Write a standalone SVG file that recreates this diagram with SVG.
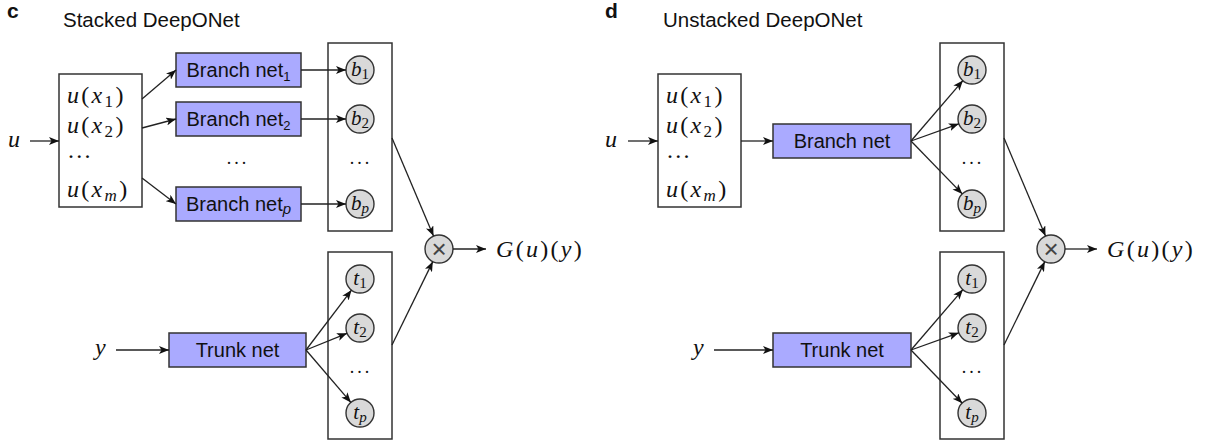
<svg xmlns="http://www.w3.org/2000/svg" width="1206" height="446" viewBox="0 0 1206 446">
<style>
text{fill:#111}
.lbl{font-family:"Liberation Sans",Arial,sans-serif;font-size:20.5px}
.pl{font-family:"Liberation Sans",Arial,sans-serif;font-size:21px;font-weight:bold}
.net{fill:#aaaaff;stroke:#333;stroke-width:1.5}
.box{fill:#fff;stroke:#333;stroke-width:1.5}
.nt{font-family:"Liberation Sans",Arial,sans-serif;font-size:20px;text-anchor:middle}
.nd{fill:#d9d9d9;stroke:#333;stroke-width:1.4}
.m{font-family:"Liberation Serif","Times New Roman",serif;font-size:24px;font-style:italic;letter-spacing:2.3px}
.mr{font-style:normal}
.cl{font-family:"Liberation Serif","Times New Roman",serif;font-size:21px;font-style:italic;text-anchor:middle}
.dots{font-family:"Liberation Serif",serif;font-size:18px;letter-spacing:3px;text-anchor:middle}
.x{font-family:"Liberation Sans",Arial,sans-serif;font-size:26px;text-anchor:middle;fill:#444}
.conn line{stroke:#222;stroke-width:1.3;marker-end:url(#ah)}
</style>
<defs>
<marker id="ah" viewBox="0 0 10 8" refX="10" refY="4" markerWidth="10" markerHeight="8" markerUnits="userSpaceOnUse" orient="auto">
<path d="M0,0 L10,4 L0,8 L2.5,4 z" fill="#111"/>
</marker>
</defs>

<!-- ============ Panel c ============ -->
<text class="pl" x="7" y="18">c</text>
<text class="lbl" x="63" y="27">Stacked DeepONet</text>

<g id="c-u"><text class="m" x="8" y="147">u</text></g>
<g id="c-input">
<rect class="box" x="59" y="74" width="83" height="133"/>
<text class="m" x="67" y="103">u<tspan class="mr">(</tspan>x<tspan class="mr" font-size="17" dy="4">1</tspan><tspan class="mr" dy="-4">)</tspan></text>
<text class="m" x="67" y="133">u<tspan class="mr">(</tspan>x<tspan class="mr" font-size="17" dy="4">2</tspan><tspan class="mr" dy="-4">)</tspan></text>
<text class="m mr" x="68" y="158" letter-spacing="5.5">...</text>
<text class="m" x="67" y="197">u<tspan class="mr">(</tspan>x<tspan font-size="17" dy="4">m</tspan><tspan class="mr" dy="-4">)</tspan></text>
</g>
<g id="c-branch1"><rect class="net" x="176" y="53" width="125" height="34"/><text class="nt" x="238.5" y="77">Branch net<tspan font-size="13" dy="4">1</tspan></text></g>
<g id="c-branch2"><rect class="net" x="176" y="102" width="125" height="34"/><text class="nt" x="238.5" y="126">Branch net<tspan font-size="13" dy="4">2</tspan></text></g>
<text class="dots" x="238" y="164">...</text>
<g id="c-branchp"><rect class="net" x="176" y="187" width="125" height="34"/><text class="nt" x="238.5" y="211">Branch net<tspan font-size="15" font-style="italic" dy="3">p</tspan></text></g>

<g id="c-bcol">
<rect class="box" x="328" y="43" width="64" height="188"/>
<circle class="nd" cx="360" cy="70" r="14"/><text class="cl" x="360" y="76">b<tspan class="mr" font-size="15" dy="3">1</tspan></text>
<circle class="nd" cx="360" cy="119" r="14"/><text class="cl" x="360" y="125">b<tspan class="mr" font-size="15" dy="3">2</tspan></text>
<text class="dots" x="361" y="164">...</text>
<circle class="nd" cx="360" cy="204" r="14"/><text class="cl" x="360" y="210">b<tspan font-size="15" dy="3">p</tspan></text>
</g>

<g id="c-y"><text class="m" x="95" y="355">y</text></g>
<g id="c-trunk"><rect class="net" x="169" y="333" width="137" height="34"/><text class="nt" x="237.5" y="357">Trunk net</text></g>

<g id="c-tcol">
<rect class="box" x="328" y="252" width="64" height="187"/>
<circle class="nd" cx="360" cy="279" r="14"/><text class="cl" x="360" y="285">t<tspan class="mr" font-size="15" dy="3">1</tspan></text>
<circle class="nd" cx="360" cy="328" r="14"/><text class="cl" x="360" y="334">t<tspan class="mr" font-size="15" dy="3">2</tspan></text>
<text class="dots" x="361" y="373">...</text>
<circle class="nd" cx="360" cy="413" r="14"/><text class="cl" x="360" y="419">t<tspan font-size="15" dy="3">p</tspan></text>
</g>

<g id="c-mult"><circle class="nd" cx="439" cy="249" r="14"/><text class="x" x="439" y="258">×</text></g>
<g id="c-out"><text class="m" x="496" y="257" font-size="26" letter-spacing="2">G<tspan class="mr">(</tspan>u<tspan class="mr">)(</tspan>y<tspan class="mr">)</tspan></text></g>

<!-- ============ Panel d ============ -->
<text class="pl" x="605" y="18">d</text>
<text class="lbl" x="663" y="27">Unstacked DeepONet</text>

<g id="d-u"><text class="m" x="605" y="147">u</text></g>
<g id="d-input">
<rect class="box" x="658" y="74" width="83" height="133"/>
<text class="m" x="666" y="103">u<tspan class="mr">(</tspan>x<tspan class="mr" font-size="17" dy="4">1</tspan><tspan class="mr" dy="-4">)</tspan></text>
<text class="m" x="666" y="133">u<tspan class="mr">(</tspan>x<tspan class="mr" font-size="17" dy="4">2</tspan><tspan class="mr" dy="-4">)</tspan></text>
<text class="m mr" x="667" y="158" letter-spacing="5.5">...</text>
<text class="m" x="666" y="197">u<tspan class="mr">(</tspan>x<tspan font-size="17" dy="4">m</tspan><tspan class="mr" dy="-4">)</tspan></text>
</g>
<g id="d-branch"><rect class="net" x="773" y="124" width="138" height="34"/><text class="nt" x="842" y="148">Branch net</text></g>

<g id="d-bcol">
<rect class="box" x="940" y="43" width="64" height="188"/>
<circle class="nd" cx="972" cy="70" r="14"/><text class="cl" x="972" y="76">b<tspan class="mr" font-size="15" dy="3">1</tspan></text>
<circle class="nd" cx="972" cy="119" r="14"/><text class="cl" x="972" y="125">b<tspan class="mr" font-size="15" dy="3">2</tspan></text>
<text class="dots" x="973" y="164">...</text>
<circle class="nd" cx="972" cy="204" r="14"/><text class="cl" x="972" y="210">b<tspan font-size="15" dy="3">p</tspan></text>
</g>

<g id="d-y"><text class="m" x="693" y="355">y</text></g>
<g id="d-trunk"><rect class="net" x="773" y="333" width="138" height="34"/><text class="nt" x="842" y="357">Trunk net</text></g>

<g id="d-tcol">
<rect class="box" x="940" y="252" width="64" height="187"/>
<circle class="nd" cx="972" cy="279" r="14"/><text class="cl" x="972" y="285">t<tspan class="mr" font-size="15" dy="3">1</tspan></text>
<circle class="nd" cx="972" cy="328" r="14"/><text class="cl" x="972" y="334">t<tspan class="mr" font-size="15" dy="3">2</tspan></text>
<text class="dots" x="973" y="373">...</text>
<circle class="nd" cx="972" cy="413" r="14"/><text class="cl" x="972" y="419">t<tspan font-size="15" dy="3">p</tspan></text>
</g>

<g id="d-mult"><circle class="nd" cx="1051" cy="249" r="14"/><text class="x" x="1051" y="258">×</text></g>
<g id="d-out"><text class="m" x="1107" y="257" font-size="26" letter-spacing="2">G<tspan class="mr">(</tspan>u<tspan class="mr">)(</tspan>y<tspan class="mr">)</tspan></text></g>

<!-- ============ Connectors ============ -->
<g id="connectors" class="conn">
<line x1="30" y1="141" x2="59" y2="141"/>
<line x1="142" y1="99" x2="176" y2="70"/>
<line x1="142" y1="128" x2="176" y2="119"/>
<line x1="142" y1="178" x2="176" y2="204"/>
<line x1="301" y1="70" x2="346" y2="70"/>
<line x1="301" y1="119" x2="346" y2="119"/>
<line x1="301" y1="204" x2="346" y2="204"/>
<line x1="116" y1="350" x2="169" y2="350"/>
<line x1="306" y1="350" x2="351.5" y2="290.1"/>
<line x1="306" y1="350" x2="347" y2="333.3"/>
<line x1="306" y1="350" x2="350.9" y2="402.4"/>
<line x1="392" y1="138" x2="433.5" y2="236.1"/>
<line x1="392" y1="345" x2="432.8" y2="261.6"/>
<line x1="453" y1="249" x2="486" y2="249"/>

<line x1="628" y1="141" x2="658" y2="141"/>
<line x1="741" y1="141" x2="773" y2="141"/>
<line x1="911" y1="141" x2="962.9" y2="80.6"/>
<line x1="911" y1="141" x2="958.8" y2="123.8"/>
<line x1="911" y1="141" x2="962.3" y2="193.9"/>
<line x1="714" y1="350" x2="773" y2="350"/>
<line x1="911" y1="350" x2="962.9" y2="289.6"/>
<line x1="911" y1="350" x2="958.8" y2="332.8"/>
<line x1="911" y1="350" x2="962.3" y2="403.3"/>
<line x1="1004" y1="138" x2="1045.5" y2="236.1"/>
<line x1="1004" y1="345" x2="1044.8" y2="261.6"/>
<line x1="1065" y1="249" x2="1097" y2="249"/>
</g>
</svg>
